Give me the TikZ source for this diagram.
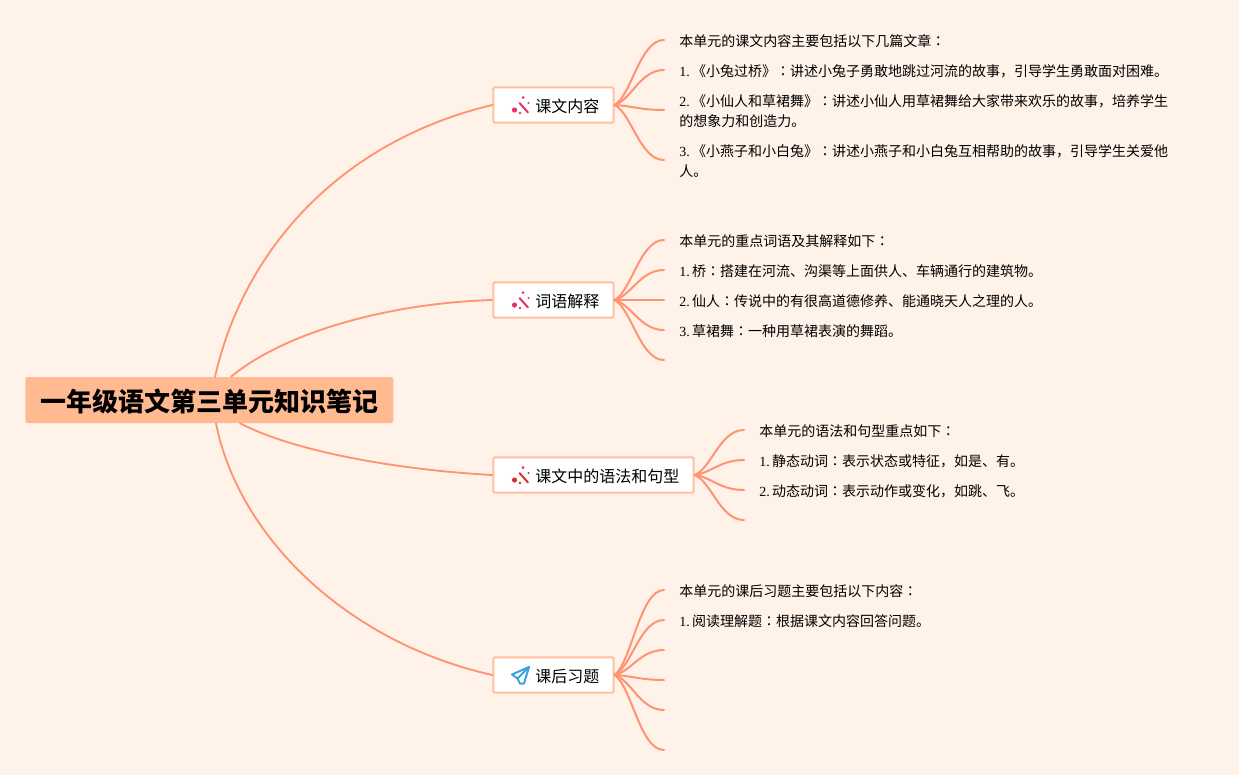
\documentclass[tikz,border=0pt]{standalone}
\usepackage{fontspec}
\setmainfont{Liberation Serif}
\newfontfamily\cjk{Noto Sans CJK SC}
\newfontfamily\cjktc{Noto Sans CJK TC}
\usetikzlibrary{calc}
\definecolor{bgc}{HTML}{FFF2E8}
\definecolor{linec}{HTML}{FF9473}
\definecolor{rootc}{HTML}{FFBA91}
\definecolor{boxc}{HTML}{FFC09C}
\definecolor{wandp}{HTML}{E8306E}
\definecolor{wandr}{HTML}{D8302C}
\definecolor{planec}{HTML}{3CA0DC}
\tikzset{
 px/.style={x=0.75pt,y=-0.75pt},
 rootnode/.style={fill=rootc,rounded corners=1.5pt,minimum height=34.5pt,inner sep=0pt,anchor=west},
 topic/.style={draw=boxc,line width=1.5pt,fill=white,rounded corners=1pt,minimum height=26.5pt,inner sep=0pt,anchor=west},
 topictext/.style={anchor=west,inner sep=0pt,font=\cjk\fontsize{12}{15}\selectfont,text=black},
 body/.style={anchor=west,inner sep=0pt,font=\fontsize{10.5}{13}\selectfont,text=black},
 conn/.style={draw=linec,line width=1.4pt,line cap=round},
 leaf/.style={draw=linec,line width=1.5pt,line cap=round},
 wandpic/.pic={
   \draw[#1,line width=1.5pt,line cap=round] (-1.5,-3) -- (7,6.5);
   \fill[#1] (-6.5,4) circle (2.6);
   \fill[#1] (2,-8.5) circle (1.5);
   \fill[#1] (7.5,-3) circle (1.1);
   \fill[#1] (-1,7) circle (1.3);
 },
 planepic/.pic={
   \draw[planec,line width=1.5pt,line join=round] (8,-8.5) -- (-9,-1) -- (-3.5,3) -- (-1,8) -- (3,8) -- cycle;
   \draw[planec,line width=1.5pt,line join=round] (8,-8.5) -- (-3.5,3);
 }
}
\newcommand{\zh}[1]{{\cjk #1}}
\newcommand{\cln}{{\cjktc ：}}
\newcommand{\gp}{\hspace{1.7pt}}
\begin{document}
\begin{tikzpicture}[px]
\useasboundingbox[fill=bgc] (0,0) rectangle (1239,775);
% root
\node[rootnode,minimum width=276pt] (root) at (25,400) {};
\node[anchor=center,inner sep=0pt,font=\cjk\fontsize{19.5}{24}\selectfont\bfseries] (roottext) at (209.5,401.5) {一年级语文第三单元知识笔记};
% topics
\node[topic,minimum width=90.2pt] (t1) at (492.3,105) {};
\node[topic,minimum width=90.2pt] (t2) at (492.3,300) {};
\node[topic,minimum width=150.2pt] (t3) at (492.3,475) {};
\node[topic,minimum width=90.2pt] (t4) at (492.3,675) {};
\node[topictext] (t1t) at (535,106) {课文内容};
\node[topictext] (t2t) at (535,301) {词语解释};
\node[topictext] (t3t) at (535,476) {课文中的语法和句型};
\node[topictext] (t4t) at (535,676) {课后习题};
\pic at (521,106) {wandpic={wandp}};
\pic at (521,301) {wandpic={wandp}};
\pic at (521,476) {wandpic={wandr}};
\pic at (521,675.5) {planepic};
% anchors on root
\coordinate (r1) at ($(root.north west)+(190,0)$);
\coordinate (r2) at ($(root.north west)+(206,0)$);
\coordinate (r3) at ($(root.south west)+(215,0)$);
\coordinate (r4) at ($(root.south west)+(191,0)$);
\draw[conn] (r1) .. controls (245,245) and (345,140) .. (t1.west);
\draw[conn] (r2) .. controls (285,332) and (390,303) .. (t2.west);
\draw[conn] (r3) .. controls (295,452) and (400,470) .. (t3.west);
\draw[conn] (r4) .. controls (238,535) and (345,642) .. (t4.west);
% leaves
\foreach \y/\n in {40/a,70/b,110/c,160/d}{
  \coordinate (l1\n) at (664,\y);
  \draw[leaf] (t1.east) .. controls ($(t1.east)!0.15!(l1\n -| t1.east)+(17,0)$) and ($(l1\n)+(-24,0)$) .. (l1\n);
}
\foreach \y/\n in {240/a,270/b,300/c,330/d,360/e}{
  \coordinate (l2\n) at (664,\y);
  \draw[leaf] (t2.east) .. controls ($(t2.east)!0.15!(l2\n -| t2.east)+(17,0)$) and ($(l2\n)+(-24,0)$) .. (l2\n);
}
\foreach \y/\n in {430/a,460/b,490/c,520/d}{
  \coordinate (l3\n) at (744,\y);
  \draw[leaf] (t3.east) .. controls ($(t3.east)!0.15!(l3\n -| t3.east)+(17,0)$) and ($(l3\n)+(-24,0)$) .. (l3\n);
}
\foreach \y/\n in {590/a,620/b,650/c,680/d,710/e,750/f}{
  \coordinate (l4\n) at (664,\y);
  \draw[leaf] (t4.east) .. controls ($(t4.east)!0.15!(l4\n -| t4.east)+(17,0)$) and ($(l4\n)+(-24,0)$) .. (l4\n);
}
% texts
\node[body] (x1) at (679,41) {\zh{本单元的课文内容主要包括以下几篇文章\cln}};
\node[body] (x2) at (679,71) {1.\gp\zh{《小兔过桥》\cln 讲述小兔子勇敢地跳过河流的故事，引导学生勇敢面对困难。}};
\node[body] (x3) at (679,101) {2.\gp\zh{《小仙人和草裙舞》\cln 讲述小仙人用草裙舞给大家带来欢乐的故事，培养学生}};
\node[body] (x4) at (679,121) {\zh{的想象力和创造力。}};
\node[body] (x5) at (679,151) {3.\gp\zh{《小燕子和小白兔》\cln 讲述小燕子和小白兔互相帮助的故事，引导学生关爱他}};
\node[body] (x6) at (679,171) {\zh{人。}};
\node[body] (y1) at (679,241) {\zh{本单元的重点词语及其解释如下\cln}};
\node[body] (y2) at (679,271) {1.\gp\zh{桥\cln 搭建在河流、沟渠等上面供人、车辆通行的建筑物。}};
\node[body] (y3) at (679,301) {2.\gp\zh{仙人\cln 传说中的有很高道德修养、能通晓天人之理的人。}};
\node[body] (y4) at (679,331) {3.\gp\zh{草裙舞\cln 一种用草裙表演的舞蹈。}};
\node[body] (z1) at (759,431) {\zh{本单元的语法和句型重点如下\cln}};
\node[body] (z2) at (759,461) {1.\gp\zh{静态动词\cln 表示状态或特征，如是、有。}};
\node[body] (z3) at (759,491) {2.\gp\zh{动态动词\cln 表示动作或变化，如跳、飞。}};
\node[body] (w1) at (679,591) {\zh{本单元的课后习题主要包括以下内容\cln}};
\node[body] (w2) at (679,621) {1.\gp\zh{阅读理解题\cln 根据课文内容回答问题。}};
\end{tikzpicture}
\end{document}
